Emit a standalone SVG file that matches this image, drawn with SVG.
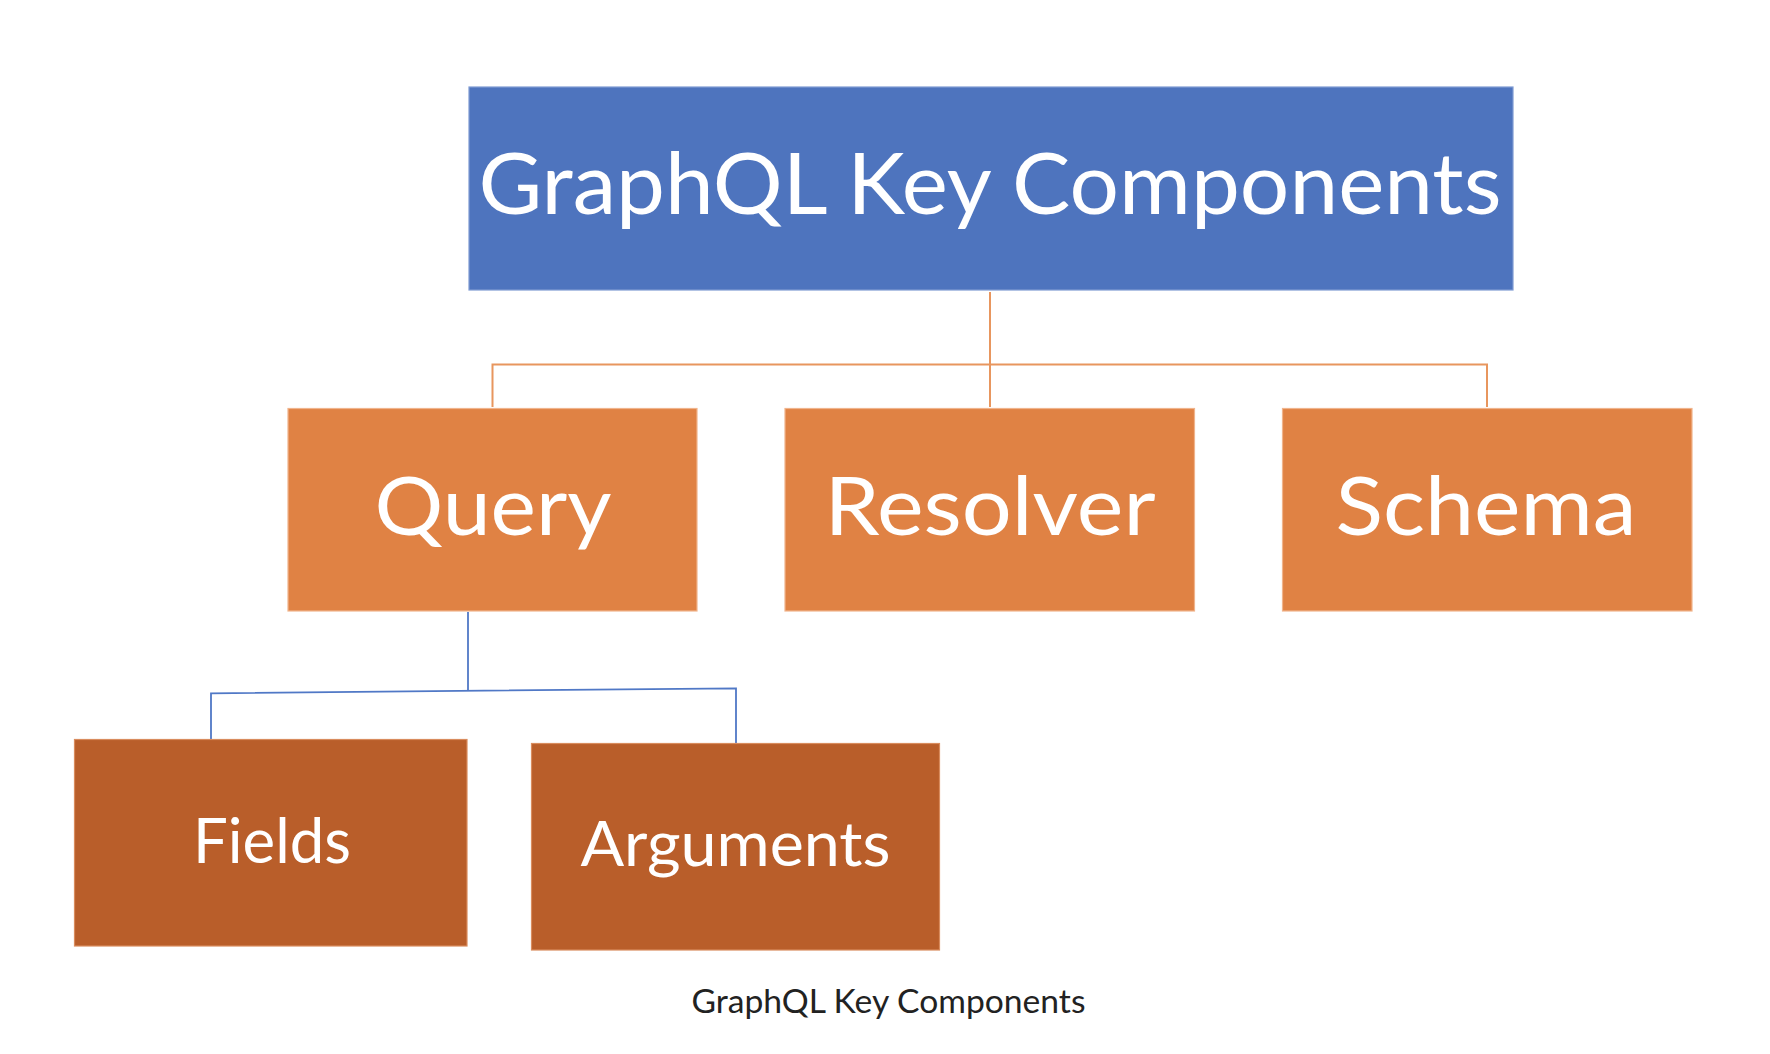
<svg xmlns="http://www.w3.org/2000/svg" width="1770" height="1054" viewBox="0 0 1770 1054">
<style>
.box{stroke-width:1.2}
.top{fill:#4E74BE;stroke:#7F9BD3}
.mid{fill:#E08244;stroke:#F0B48C}
.low{fill:#B95E2A;stroke:#D98C5E}
.lbl{font-family:Lato,"Open Sans","Noto Sans",sans-serif;fill:#FFFFFF;text-anchor:middle}
.cap{font-family:Lato,"Open Sans","Noto Sans",sans-serif;fill:#222222;text-anchor:middle;font-size:32px}
.oc{stroke:#E8965E;stroke-width:2;fill:none}
.bc{stroke:#5078C6;stroke-width:1.8;fill:none}
</style>
<rect width="1770" height="1054" fill="#FFFFFF"/>
<g id="connectors">
<line class="oc" x1="990" y1="292" x2="990" y2="407"/>
<polyline class="oc" points="492.5,407 492.5,364.5 1487,364.5 1487,407"/>
<line class="bc" x1="468" y1="612" x2="468" y2="690"/>
<polyline class="bc" points="211,739 211,693.3 736,688.3 736,743"/>
</g>
<g id="node-title">
<rect class="box top" x="469" y="87" width="1044" height="203"/>
<text class="lbl" x="990" y="214" font-size="85" textLength="1023" lengthAdjust="spacingAndGlyphs">GraphQL Key Components</text>
</g>
<g id="node-query">
<rect class="box mid" x="288" y="408.5" width="409" height="202.5"/>
<text class="lbl" x="493" y="535" font-size="82" textLength="237" lengthAdjust="spacingAndGlyphs">Query</text>
</g>
<g id="node-resolver">
<rect class="box mid" x="785" y="408.5" width="409.5" height="202.5"/>
<text class="lbl" x="990" y="535" font-size="82" textLength="331" lengthAdjust="spacingAndGlyphs">Resolver</text>
</g>
<g id="node-schema">
<rect class="box mid" x="1282.5" y="408.5" width="409.5" height="202.5"/>
<text class="lbl" x="1486" y="535" font-size="82" textLength="301" lengthAdjust="spacingAndGlyphs">Schema</text>
</g>
<g id="node-fields">
<rect class="box low" x="74.5" y="739.5" width="392.5" height="206.5"/>
<text class="lbl" x="272" y="863" font-size="61" textLength="158" lengthAdjust="spacingAndGlyphs">Fields</text>
</g>
<g id="node-arguments">
<rect class="box low" x="531.5" y="743.5" width="408" height="206.5"/>
<text class="lbl" x="735.5" y="866" font-size="61" textLength="310" lengthAdjust="spacingAndGlyphs">Arguments</text>
</g>
<text class="cap" x="888.5" y="1013" textLength="394" lengthAdjust="spacingAndGlyphs">GraphQL Key Components</text>
</svg>
